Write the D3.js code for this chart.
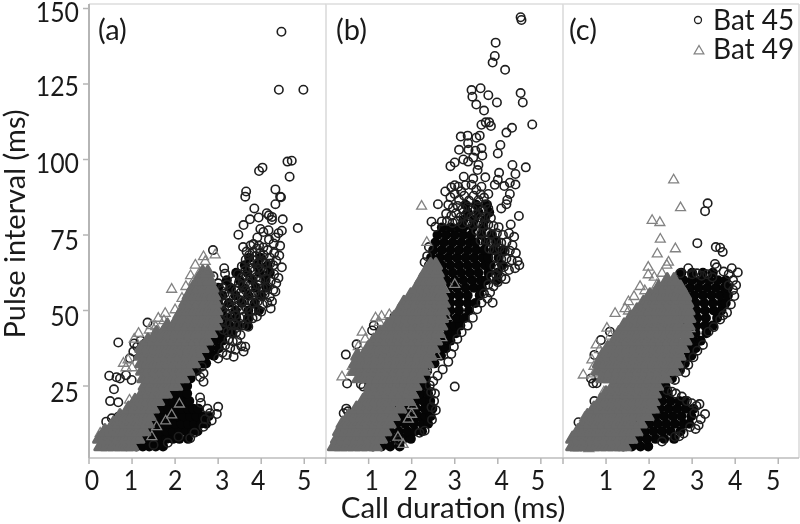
<!DOCTYPE html>
<html><head><meta charset="utf-8">
<script src="https://cdnjs.cloudflare.com/ajax/libs/d3/7.8.5/d3.min.js"></script>
<style>html,body{margin:0;background:#fff}svg{display:block;filter:blur(.4px)}text{font-family:Lato,"Open Sans",sans-serif;fill:#1a1a1a}</style>
</head><body><svg id="c" width="800" height="524"></svg>
<script>
const yTicks=[25,50,75,100,125,150];
const xTicksA=[0,1,2,3,4,5], xTicksB=[0,1,2,3,4,5], xTicksC=[0,1,2,3,4,5];
const legendLabels=["Bat 45","Bat 49"];
// dense regions: [y, x, x, ...]
const grayA=[
[5,.27,.42,.58,.74,.88,1.0],[7.5,.24,.38,.54,.7,.86,1.02,1.14],[10,.37,.52,.68,.84,1.0,1.16,1.28],
[12.5,.57,.72,.88,1.04,1.2,1.36],[15,.72,.86,1.02,1.18,1.32,1.4],[17.5,.92,1.08,1.24,1.38,1.48],
[20,1.07,1.22,1.38,1.52,1.6],[22.5,1.24,1.4,1.56,1.7,1.78],[25,1.3,1.46,1.62,1.78,1.92,2.02],
[27.5,1.27,1.42,1.58,1.74,1.9,2.06,2.18],[30,1.24,1.4,1.56,1.72,1.88,2.04,2.18,2.3],
[32.5,1.22,1.38,1.54,1.7,1.86,2.02,2.18,2.32,2.43],[35,1.19,1.34,1.5,1.66,1.82,1.98,2.14,2.3,2.44,2.53],
[37.5,1.22,1.38,1.54,1.7,1.86,2.02,2.18,2.34,2.5,2.63],[40,1.37,1.52,1.68,1.84,2.0,2.16,2.32,2.48,2.62,2.73],
[42.5,1.57,1.72,1.88,2.04,2.2,2.36,2.52,2.68,2.83],[45,1.82,1.98,2.14,2.3,2.46,2.62,2.78,2.93],
[47.5,2.07,2.22,2.38,2.54,2.7,2.84,2.95],[50,2.17,2.32,2.48,2.64,2.8,2.95],[52.5,2.24,2.4,2.56,2.72,2.86,2.93],
[55,2.32,2.48,2.64,2.78,2.9],[57.5,2.42,2.56,2.7,2.86],[60,2.54,2.68,2.8],[62.5,2.64,2.76]];
const blackA=[
[5,1.1,1.25,1.4,1.55,1.72],[7.5,1.2,1.35,1.5,1.65,1.8,1.95,2.1,2.3],[10,1.35,1.5,1.65,1.8,1.95,2.1,2.25,2.4,2.52],
[12.5,1.4,1.55,1.7,1.85,2.0,2.15,2.3,2.45,2.6,2.72],[15,1.45,1.6,1.75,1.9,2.05,2.2,2.35,2.5,2.65,2.78],
[17.5,1.55,1.7,1.85,2.0,2.15,2.3,2.42,2.54],[20,1.65,1.8,1.95,2.1,2.22,2.33],[22.5,1.85,2.0,2.15,2.28],
[25,2.05,2.18,2.28],[27.5,2.2,2.36],[30,2.32,2.5],[32.5,2.45,2.62,2.72],[35,2.55,2.72,2.9],[37.5,2.65,2.82,3.02],[40,2.75,2.92,3.1],[42.5,2.85,3.02,3.16,3.32],[45,2.95,3.12,3.26,3.47,3.68],[47.5,2.98,3.12,3.22,3.42,3.7],
[50,3.1,3.4,3.7,3.95],[52.5,3.0,3.25,3.55,3.85],[55,3.1,3.4,3.7,4.0],[57.5,3.0,3.28,3.58,3.88,4.12],[60,3.2,3.5,3.8,4.1],[62.5,3.42,3.68,3.96,4.2],[65,3.62,3.9,4.15],[67.5,3.72,3.98]];
const circlesA=[[4.47,142.3],[4.41,123.1],[4.98,123.1],[4.61,99.3],[4.71,99.6],[4.66,94.3],[4.03,97.3],[3.95,96.2],[3.65,89.4],[3.63,87.7],[4.33,90.1],[4.44,87.7],[4.46,87.5],[4.33,85.2],[3.84,83.8],[4.13,82.2],[4.25,81],[3.94,80.8],[3.74,80.2],[4.5,80.2],[4.25,80],[4.18,81.5],[3.59,78.3],[4.85,77.3],[3.98,77],[4.17,76.6],[4.48,76.4],[4.05,76],[3.91,74.2],[3.47,75.1],[4.33,74.2],[4.44,71.4],[4.29,72.2],[4.05,70.9],[4.18,73.5],[4.4,75.6],[3.58,71],[2.88,70],
[3.75,71.5],[3.82,72],[3.9,70.5],[3.95,71.5],[4.15,70],[4.3,69],[4.42,68.2],[3.66,69.5],[3.72,68.3],[3.8,69.2],[3.88,68],[3.97,69],[4.06,68.4],[4.2,67.5],[4.35,66.5],[3.64,66.8],[3.72,65.9],[3.83,66.6],[3.93,65.7],[4.02,66.3],[4.12,65.6],[4.28,65],[4.48,64.3],[4.21,65.6],[3.14,64],[3.16,62.2],[2.89,61.3],[3,59],
[3.55,64.6],[3.63,63.4],[3.74,63.9],[3.84,63],[3.94,63.8],[4.05,62.8],[4.17,63.2],[4.3,62],[4.4,60.8],[3.46,62],[3.55,61],[3.66,61.6],[3.76,60.4],[3.88,61],[3.98,60],[4.1,60.6],[4.22,59.6],[4.35,59],[3.38,59.8],[3.48,59],[3.58,58.3],[3.7,59],[3.8,57.8],[3.92,58.4],[4.04,57.4],[4.15,57.9],[4.28,56.8],[4.33,56.3],
[3.1,57.5],[3.2,58.6],[3.3,57.2],[3.42,56.6],[3.53,56],[3.64,56.6],[3.74,55.4],[3.85,56],[3.97,55],[4.08,55.5],[4.2,54.4],[3.05,54.6],[3.15,55.6],[3.26,54.6],[3.36,54],[3.48,53.6],[3.58,53],[3.7,53.4],[3.8,52.6],[3.92,53],[4.03,52],[4.14,52.6],[4.25,53],[3.04,51.5],[3.12,52.4],[3.24,51.6],[3.33,50.8],[3.44,51],[3.55,50.4],[3.66,50.8],[3.76,49.8],[3.86,50],[4.0,49.6],[4.22,50.7],[3.9,48],[3.1,49.4],[3.2,48.6],[3.3,48],[3.4,48.4],[3.5,47.6],[3.6,48],[3.7,47.2],[3.8,47.4],[3.08,46.6],[3.18,46],[3.28,45.6],[3.38,45.4],[3.48,45],[3.6,45],[3.7,44.6],[3.12,43.6],[3.22,43],[3.32,42.6],[3.42,42.8],[3.52,41.9],[3.24,40.4],[3.34,39.8],[3.44,40],[3.16,38.4],[3.28,37.6],[3.4,37],[3.54,38.2],[3.63,38],[3.59,36.4],[3.36,34.7],[3.2,35.3],[3,34.1],[3.1,36],
[1.36,46],[.68,39.4],[1.05,39.1],[1.03,36.4],[.95,34.2],[.47,28.4],[.64,27.9],[.72,27.5],[.99,27],[.86,28.6],[.58,23.9],[.49,20],[.68,19.6],[.4,13.2],[.53,14.3],[.68,14.8],[1.3,39.1],[1.2,40],[1.12,38],
[2.58,21.2],[2.6,19.4],[3,18.1],[2.97,15.7],[2.81,16],[2.66,11.5],[2.35,7.7],[2.08,8.2],[1.83,6.2],[1.5,5.5],[2.66,26.4],[2.58,28],[2.66,29.2],[2.62,31.4],[2.7,14],[2.85,13.6],[2.75,17.5],[2.45,9.5]];
const trianglesA=[[2.66,67.8],[2.93,68.4],[1.92,57],[2.47,65],[2.7,66.2],[2.25,57.9],[2.43,59.6],[2.16,54],[2,50.2],[2.07,48.6],[1.77,49],[1.61,47.4],[1.74,46.6],[1.4,43.5],[1.15,42.4],[1.05,40.5],[1.45,45],[1.55,44.6],[.8,32.5],[.91,33.6],[.86,31],[1.0,31],[.94,20.3],[2.1,19],[1.92,15.4],[1.78,13.4],[1.57,11.5],[1.46,8.2],[.26,9.3],[2.55,62],[2.36,61.5]];

const grayB=[
[5,.2,.35,.5,.66,.82,.98,1.16],[7.5,.27,.42,.58,.74,.9,1.06,1.2,1.28],[10,.32,.48,.64,.8,.96,1.12,1.28,1.38],
[12.5,.4,.55,.7,.86,1.02,1.18,1.34,1.48],[15,.54,.7,.86,1.02,1.18,1.34,1.5,1.58],[17.5,.72,.88,1.04,1.2,1.36,1.52,1.73],
[20,.87,1.02,1.18,1.34,1.5,1.66,1.82,1.93],[22.5,.99,1.14,1.3,1.46,1.62,1.78,1.94,2.0],[25,1.04,1.2,1.36,1.52,1.68,1.84,2.0,2.08],
[27.5,.77,.92,1.08,1.24,1.4,1.56,1.72,1.88,2.04,2.18],[30,.68,.84,1.0,1.16,1.32,1.48,1.64,1.8,1.96,2.12,2.28],
[32.5,.7,.86,1.02,1.18,1.34,1.5,1.66,1.82,1.98,2.14,2.3,2.36],[35,.74,.9,1.06,1.22,1.38,1.54,1.7,1.86,2.02,2.18,2.34,2.43],
[37.5,.99,1.14,1.3,1.46,1.62,1.78,1.94,2.1,2.26,2.42,2.5],[40,1.12,1.28,1.44,1.6,1.76,1.92,2.08,2.24,2.4,2.56],
[42.5,1.27,1.42,1.58,1.74,1.9,2.06,2.22,2.38,2.52,2.62],[45,1.44,1.6,1.76,1.92,2.08,2.24,2.4,2.56,2.68],
[47.5,1.6,1.75,1.9,2.06,2.22,2.38,2.54,2.7],[50,1.72,1.88,2.04,2.2,2.36,2.52,2.66,2.73],[52.5,1.82,1.98,2.14,2.3,2.46,2.62,2.74],
[55,1.98,2.14,2.3,2.46,2.6,2.7],[57.5,2.12,2.28,2.44,2.58,2.68],[60,2.22,2.36,2.5,2.64],[62.5,2.32,2.46,2.6],[65,2.44,2.56]];
const blackB=[
[5,1.1,1.3,1.5,1.72],[7.5,1.2,1.4,1.6,1.8,1.98],[10,1.3,1.5,1.7,1.9,2.08,2.24],[12.5,1.45,1.65,1.85,2.05,2.25,2.38],[15,1.55,1.75,1.95,2.15,2.32,2.44],
[17.5,1.7,1.9,2.1,2.3,2.48],[20,1.9,2.1,2.28,2.43],[22.5,2,2.2,2.38],[25,2.05,2.2,2.33],[27.5,2.15,2.33],[30,2.25,2.36],[32.5,2.35,2.53],[35,2.4,2.55,2.68],
[37.5,2.5,2.66,2.8],[40,2.55,2.72,2.9],[42.5,2.6,2.78,2.95,3.03],[45,2.68,2.85,3.0,3.13],[47.5,2.68,2.85,3.05,3.23],[50,2.7,2.9,3.1,3.33],
[52.5,2.7,2.9,3.1,3.3,3.48],[55,2.7,2.9,3.1,3.3,3.58],[57.5,2.65,2.85,3.05,3.25,3.45,3.63],[60,2.6,2.8,3,3.2,3.4,3.6,3.73,3.98],[62.5,2.55,2.75,2.95,3.15,3.35,3.55,3.78,4.0],
[65,2.5,2.7,2.9,3.1,3.3,3.5,3.7,3.83,4.1],[67.5,2.45,2.65,2.85,3.05,3.25,3.45,3.65,3.78,4.02],[70,2.5,2.7,2.9,3.1,3.3,3.5,3.68,3.9,4.12],[72.5,2.55,2.75,2.95,3.15,3.35,3.48,3.72,3.96],[75,2.6,2.8,3,3.2,3.38,3.62,3.86],[77.5,2.7,2.9,3.1,3.2,3.42,3.66],
[80,3.2,3.45,3.7],[82.5,3.3,3.55,3.8],[85,3.25,3.5,3.75]];
const circlesB=[[4.53,147.1],[4.55,146.2],[3.95,138.7],[3.93,134.3],[3.88,132.1],[4.17,129.7],[3.39,123],[3.6,123.6],[3.41,120.8],[3.78,121.3],[3.98,118.9],[4.53,122],[4.58,118.9],[3.5,118.2],[3.68,116.2],[4.8,111.6],[4.33,110.5],[4.2,108.9],[3.62,111.5],[3.72,112.3],[3.8,112.3],[3.84,111.1],[3.58,107.9],[3.5,107.2],[3.14,107.6],[3.3,107.9],[3.31,105.4],[4.06,104.8],[3.1,103.2],[3.32,103.2],[3.62,103.7],[3.48,102.9],[4,102],[3.64,101.3],[3.43,100.7],[3.2,100],[3.31,99.3],[3,99],[2.9,97.8],[3.55,98.2],[3.53,96.5],[4.34,98.2],[4.65,97.4],[4.41,95.2],[4.03,95.6],[3.71,94.1],[3.21,94.3],[3.43,93.7],[4,93.3],[3.93,91.6],[4.28,92.3],[4.41,91.7],[4.15,91.2],[2.92,90.8],[2.78,89.4],[3.08,91],[3.39,91.6],[3.78,88.6],[4.28,88.6],[4.22,86.6],[4.2,85.2],[4.08,83.8],[2.61,85.2],[4.49,81.3],[4.3,78.5],[2.46,79.4],[2.55,77.7],
[3,91.5],[3.15,89.5],[3.25,91.5],[3.5,90],[3.62,91],[3.6,88.5],[2.9,87.5],[3.0,88.6],[3.1,86.6],[3.22,88],[3.33,86.4],[3.44,88],[3.55,86.5],[3.68,87.4],[3.72,85.2],[2.85,85],[2.96,84],[3.07,84.6],[3.18,83.6],[3.3,84.4],[3.42,83.4],[3.53,84.4],[3.65,83.2],[3.78,83.8],[2.8,82],[2.92,81.4],[3.03,82.2],[3.14,81],[3.26,81.8],[3.38,81],[3.5,81.8],[3.6,80.8],[3.72,81.2],[3.84,80.6],[2.7,79.5],[2.82,79.6],[2.95,79],[3.06,79.6],[3.18,78.6],[3.3,79.2],[3.42,78.4],[3.54,79],[3.66,78.2],[3.78,78.4],[3.9,78],[4.02,77.6],[3.5,76.4],[3.62,75.6],[3.74,76],[3.86,75.2],[3.98,75.6],[4.12,75],[4.26,75.6],[4.38,74.4],[3.6,73.2],[3.72,73.4],[3.84,72.6],[3.96,73],[4.08,72.4],[4.2,72.6],[4.34,71.6],[3.8,70.4],[3.92,70],[4.04,70.6],[4.16,69.6],[4.28,69.8],[4.42,69],[3.96,67.6],[4.08,67],[4.2,67.2],[4.32,66.6],[4.46,66.3],[3.92,64.6],[4.02,64],[4.14,64.4],[4.26,63.4],[4.4,64],[4.5,65],[3.84,61.4],[3.96,61.8],[4.08,61],[4.18,60.4],[3.78,58.6],[3.9,58],[4,59.4],[3.68,55.6],[3.82,56],[3.62,52.6],[3.76,54],[3.88,52.6],[3.52,50.4],[3.42,47.6],[3.3,45],[3.16,42.8],[3.06,40.6],[2.98,38],[2.92,35.6],[2.85,33],[2.72,30.5],[2.6,28.4],[2.5,26.6],
[2.4,65],[2.43,63.4],[2.3,66],[2.36,68],[2.4,71],[3,24.8],[.47,35.4],[.5,25.8],[.82,25.6],[.88,24.8],[.48,17.5],[.52,16.6],[.72,38.8],[1.12,45],[1.08,43.4],[1.6,48],[2.46,18],[2.52,20],[2.54,22.5],[2.42,25.2],[2.45,23],[2.56,17],[2.47,13.8],[2.3,10.2],[2.18,9.5],[1.7,7],[.42,16]];
const trianglesB=[[2.23,84.5],[2.35,72.5],[3,58.6],[2.76,57],[2.68,52],[2.8,48],[2.62,44],[2.7,41],[2.58,35],[2.33,31],[1.48,48.6],[1.3,48],[1.16,47.5],[1.25,46],[.85,42.8],[.92,40.5],[.76,38],[.62,31.5],[.38,28],[.6,29.5],[2.02,18.5],[2,15.6],[1.92,14],[2.05,22],[1.8,5.6],[1.68,8]];

const grayC=[
[5,.22,.38,.54,.7,.86,1.02,1.18,1.34,1.43],[7.5,.22,.38,.54,.7,.86,1.02,1.18,1.34,1.5,1.58],[10,.35,.5,.66,.82,.98,1.14,1.3,1.46,1.62,1.7],
[12.5,.48,.64,.8,.96,1.12,1.28,1.44,1.6,1.8],[15,.57,.72,.88,1.04,1.2,1.36,1.52,1.68,1.84,1.96],[17.5,.72,.88,1.04,1.2,1.36,1.52,1.68,1.84,2.0,2.08],
[20,.87,1.02,1.18,1.34,1.5,1.66,1.82,1.98,2.1],[22.5,1.0,1.16,1.32,1.48,1.64,1.8,1.96,2.13],[25,1.17,1.32,1.48,1.64,1.8,1.96,2.12,2.18],
[27.5,.92,1.08,1.24,1.4,1.56,1.72,1.88,2.04,2.2,2.38],[30,.82,.98,1.14,1.3,1.46,1.62,1.78,1.94,2.1,2.26,2.42,2.58],
[32.5,.84,1.0,1.16,1.32,1.48,1.64,1.8,1.96,2.12,2.28,2.44,2.6,2.64],[35,.92,1.08,1.24,1.4,1.56,1.72,1.88,2.04,2.2,2.36,2.52,2.7],
[37.5,1.04,1.2,1.36,1.52,1.68,1.84,2.0,2.16,2.32,2.48,2.64,2.78],[40,1.2,1.36,1.52,1.68,1.84,2.0,2.16,2.32,2.48,2.64,2.84],
[42.5,1.3,1.46,1.62,1.78,1.94,2.1,2.26,2.42,2.58,2.74,2.88],[45,1.42,1.58,1.74,1.9,2.06,2.22,2.38,2.54,2.7,2.91],
[47.5,1.57,1.72,1.88,2.04,2.2,2.36,2.52,2.68,2.84,2.93],[50,1.72,1.88,2.04,2.2,2.36,2.52,2.68,2.84,2.91],[52.5,1.87,2.02,2.18,2.34,2.5,2.66,2.82,2.88],
[55,2.02,2.18,2.34,2.5,2.66,2.83],[57.5,2.22,2.38,2.54,2.7,2.73],[60,2.42,2.58]];
const blackC=[
[5,1.4,1.6,1.8,1.98],[7.5,1.55,1.75,1.95,2.15,2.35,2.58],[10,1.7,1.9,2.1,2.3,2.5,2.73],[12.5,1.8,2,2.2,2.4,2.6,2.8,2.93],[15,1.95,2.15,2.35,2.55,2.75,2.98],
[17.5,2.05,2.25,2.45,2.65,2.85,3.03],[20,2.1,2.3,2.5,2.7,2.83],[22.5,2.15,2.3,2.43],[25,2.15,2.3,2.38],[27.5,2.35,2.53],[30,2.55,2.7],[32.5,2.62,2.83],
[35,2.7,2.85,2.98],[37.5,2.75,2.92,3.08],[40,2.85,3.02,3.2],[42.5,2.88,3.08,3.33],[45,2.9,3.1,3.3,3.48],[47.5,2.92,3.12,3.32,3.58],[50,2.9,3.1,3.3,3.5,3.68],
[52.5,2.88,3.08,3.28,3.48,3.68,3.78],[55,2.85,3.05,3.25,3.45,3.65,3.83],[57.5,2.75,2.95,3.15,3.35,3.55,3.75,3.83],[60,2.6,2.8,3,3.2,3.4,3.6,3.78],[62.5,2.75,3.0,3.25,3.48]];
const circlesC=[[3.36,85.5],[3.3,82.9],[3.12,72.3],[3.65,70.8],[3.71,69.4],[3.55,71],[.88,40.2],[1.09,43],[.73,35.3],[.73,20],[.36,13],[.7,25.9],[.78,25.9],[.65,27.5],
[2.91,64],[2.72,62.3],[3.11,62.3],[3.53,65.4],[3.57,64.3],[3.92,64],[4.06,62.6],[3.73,62.9],[3.95,56.8],[3.98,54.8],[3.81,49.3],[3.65,47],[3.38,43],[3.12,36.7],[2.91,32],[2.72,30.3],[2.6,27],[2.53,23.1],[2.76,21.5],[2.99,19.3],[3.17,19],[3.3,15.7],[3.15,12],[2.8,9.3],[2.6,8.2],[2.3,6.6],[3,62],[3.22,61.5],[3.35,62],[3.47,61],[3.85,62],[3.95,60],[4.02,58.4],[3.85,58.4],[3.9,52],[3.72,48.4],[3.5,44.5],[3.25,38.6],[3.1,18.4],[3.05,16],[2.88,20],[3.2,14],[3.08,10.8],[2.95,11.4],[2.7,8.4],[2.42,23.6],[2.62,22.5],[2.84,29.5],[3.03,34.5]];
const trianglesC=[[2.57,93.2],[2.73,84],[2.07,79.8],[2.25,79.1],[2.26,73.6],[2.61,70.4],[2.19,68.7],[2.45,66],[1.98,64.3],[1.98,61.8],[2.41,65],[2.3,62.3],[2.12,61],[1.79,57.9],[1.9,56.5],[1.65,54.6],[1.52,52.9],[1.21,49],[1.44,50.6],[1.52,49.8],[1.02,44.1],[1.1,41.5],[.77,38.6],[.85,37],[.67,33.6],[.72,31.5],[.47,28.6],[.72,29],[2.18,58.4],[.95,23],[1.0,21.5],[.5,14.5],[.2,7.5],[.3,4.5],[.6,4.2],[2.92,50],[2.95,44],[2.7,36]];

const panels=[
 {label:"(a)",left:89,right:326,ticks:xTicksA,nudge:[3,-1,0,4,-3,0],first:0,gray:grayA,black:blackA,circles:circlesA,tris:trianglesA,lx:98},
 {label:"(b)",left:325.6,right:563,ticks:xTicksB,nudge:[0,3,-1,0,4,-3],first:1,gray:grayB,black:blackB,circles:circlesB,tris:trianglesB,lx:336},
 {label:"(c)",left:563,right:799,ticks:xTicksC,nudge:[0,0,0,5,0,-5],first:1,gray:grayC,black:blackC,circles:circlesC,tris:trianglesC,lx:569}];
const yLabelDrop={25:16,50:15,75:15,100:13,125:12,150:13};
const svg=d3.select("#c");
const y=d3.scaleLinear().domain([0,150]).range([461.5,8.5]);
const base=458, plotTop=4;
const rows=r=>r.flatMap(([v,...xs])=>xs.map(x=>[x,v]));
const tri=d3.symbol(d3.symbolTriangle,43)(), triCore=d3.symbol(d3.symbolTriangle,58)();
const circleStroke="#1e1e1e", triStroke="#828282", grayFill="#696969";
const digitW=14.4;

panels.forEach(p=>{
 const x=d3.scaleLinear().domain([0,(p.right-p.left)/43.05]).range([p.left,p.right]);
 const g=svg.append("g");
 g.append("line").attr("x1",p.left).attr("x2",p.right).attr("y1",plotTop).attr("y2",plotTop).attr("stroke","#dcdcdc").attr("stroke-width",1.5);
 g.append("line").attr("x1",p.right).attr("x2",p.right).attr("y1",plotTop).attr("y2",base).attr("stroke","#d8d8d8").attr("stroke-width",1.5);
 g.append("line").attr("x1",p.left).attr("x2",p.right).attr("y1",base).attr("y2",base).attr("stroke","#bdbdbd").attr("stroke-width",1.5);
 const t=g.selectAll(".t").data(p.ticks).join("g").attr("class","t");
 t.append("line").attr("x1",d=>x(d)).attr("x2",d=>x(d)).attr("y1",base).attr("y2",base+6).attr("stroke","#b5b5b5").attr("stroke-width",1.5);
 t.filter(d=>d>=p.first).append("text").attr("x",d=>x(d)+p.nudge[d]).attr("y",490).attr("text-anchor","middle").attr("font-size",27).attr("textLength",digitW).attr("lengthAdjust","spacingAndGlyphs").text(d=>d);
 g.append("text").attr("x",p.lx).attr("y",40).attr("font-size",29).text(p.label);
 const dot=s=>s.attr("cx",d=>x(d[0])).attr("cy",d=>y(d[1]));
 const pos=d=>`translate(${x(d[0])},${y(d[1])})`;
 g.append("g").selectAll("circle").data(rows(p.black)).join("circle").call(dot).attr("r",5).attr("fill","#050505");
 g.append("g").selectAll("circle").data(p.circles).join("circle").call(dot).attr("r",4.2).attr("fill","none").attr("stroke",circleStroke).attr("stroke-width",1.6);
 g.append("g").selectAll("path").data(p.tris).join("path").attr("d",tri).attr("transform",pos).attr("fill","none").attr("stroke",triStroke).attr("stroke-width",1.3);
 g.append("g").selectAll("path").data(rows(p.gray)).join("path").attr("d",triCore).attr("transform",pos).attr("fill",grayFill).attr("stroke",grayFill).attr("stroke-width",3).attr("stroke-linejoin","round");
});
// y axis
svg.append("line").attr("x1",89).attr("x2",89).attr("y1",plotTop).attr("y2",base).attr("stroke","#b5b5b5").attr("stroke-width",2);
const yt=svg.selectAll(".yt").data(yTicks).join("g").attr("class","yt");
yt.append("line").attr("x1",83).attr("x2",89).attr("y1",d=>y(d)).attr("y2",d=>y(d)).attr("stroke","#b5b5b5").attr("stroke-width",1.5);
yt.append("text").attr("x",79).attr("y",d=>y(d)+yLabelDrop[d]).attr("text-anchor","end").attr("font-size",27).attr("textLength",d=>String(d).length*digitW).attr("lengthAdjust","spacingAndGlyphs").text(d=>d);
svg.append("text").attr("transform","translate(25,224) rotate(-90)").attr("text-anchor","middle").attr("font-size",29).text("Pulse interval (ms)");
svg.append("text").attr("x",453).attr("y",518).attr("text-anchor","middle").attr("font-size",29.5).text("Call duration (ms)");
// legend
svg.append("circle").attr("cx",698).attr("cy",20).attr("r",3.5).attr("fill","none").attr("stroke",circleStroke).attr("stroke-width",1.3);
svg.append("path").attr("d",d3.symbol(d3.symbolTriangle,40)()).attr("transform","translate(699,51)").attr("fill","none").attr("stroke",triStroke).attr("stroke-width",1.3);
svg.selectAll(".lg").data(legendLabels).join("text").attr("class","lg").attr("x",713).attr("y",(d,i)=>30+i*28.5).attr("font-size",28).text(d=>d);
</script></body></html>
